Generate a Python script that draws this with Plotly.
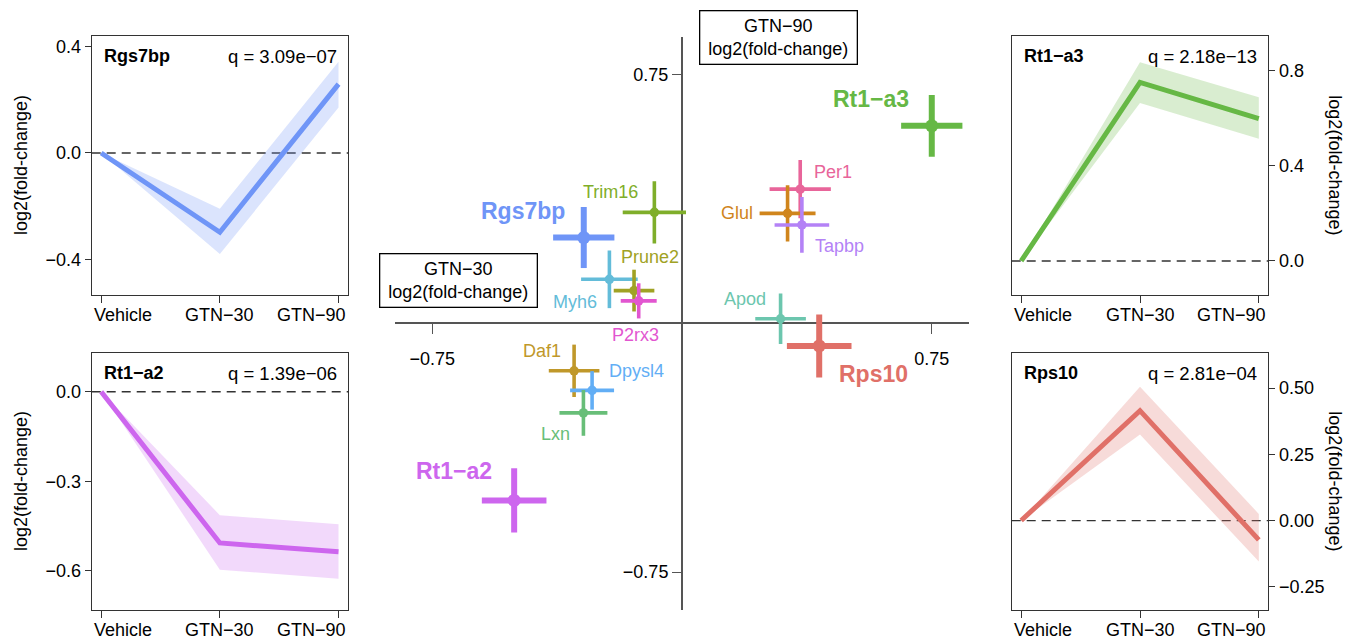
import plotly.graph_objects as go

W, H = 1359, 640
FONT = "Liberation Sans, Arial, Helvetica, sans-serif"
FS = 18

# ---------------- data ----------------
conditions = ["Vehicle", "GTN−30", "GTN−90"]

# central scatter: x = GTN-30 log2FC, y = GTN-90 log2FC, with errors
genes = ["Rt1−a3", "Rgs7bp", "Rps10", "Rt1−a2", "Trim16", "Per1", "Glul", "Tapbp",
         "Myh6", "Prune2", "P2rx3", "Apod", "Daf1", "Dpysl4", "Lxn"]
gtn30 = [0.750, -0.295, 0.412, -0.504, -0.083, 0.355, 0.317, 0.360,
         -0.218, -0.144, -0.130, 0.296, -0.324, -0.270, -0.296]
gtn90 = [0.596, 0.259, -0.068, -0.534, 0.335, 0.405, 0.332, 0.297,
         0.133, 0.099, 0.068, 0.014, -0.143, -0.202, -0.270]
err30 = [0.092, 0.092, 0.097, 0.097, 0.095, 0.092, 0.084, 0.082,
         0.085, 0.061, 0.054, 0.076, 0.076, 0.066, 0.072]
err90 = [0.093, 0.092, 0.095, 0.097, 0.094, 0.088, 0.085, 0.084,
         0.087, 0.063, 0.053, 0.076, 0.079, 0.058, 0.069]
highlighted = ["Rt1−a3", "Rgs7bp", "Rps10", "Rt1−a2"]

# per-condition profiles of the highlighted genes (small panels)
panel_genes = ["Rgs7bp", "Rt1−a2", "Rt1−a3", "Rps10"]
panel_q = ["q = 3.09e−07", "q = 1.39e−06", "q = 2.18e−13", "q = 2.81e−04"]
rgs7bp_mean = [0.0, -0.298, 0.259]
rgs7bp_lo = [0.0, -0.380, 0.171]
rgs7bp_hi = [0.0, -0.210, 0.343]
rt1a2_mean = [0.0, -0.507, -0.537]
rt1a2_lo = [0.0, -0.597, -0.627]
rt1a2_hi = [0.0, -0.414, -0.444]
rt1a3_mean = [0.0, 0.751, 0.598]
rt1a3_lo = [0.0, 0.664, 0.514]
rt1a3_hi = [0.0, 0.835, 0.688]
rps10_mean = [0.0, 0.415, -0.073]
rps10_lo = [0.0, 0.325, -0.155]
rps10_hi = [0.0, 0.505, 0.025]

# tick values / labels
p1_ticks, p1_labels = [-0.4, 0.0, 0.4], ["−0.4", "0.0", "0.4"]
p2_ticks, p2_labels = [-0.6, -0.3, 0.0], ["−0.6", "−0.3", "0.0"]
p3_ticks, p3_labels = [0.0, 0.4, 0.8], ["0.0", "0.4", "0.8"]
p4_ticks, p4_labels = [-0.25, 0.0, 0.25, 0.5], ["−0.25", "0.00", "0.25", "0.50"]
sc_ticks, sc_labels = [-0.75, 0.75], ["−0.75", "0.75"]

# ---------------- styles ----------------
gene_colors = {
    "Rt1−a3": "#66B845", "Rgs7bp": "#6F95F7", "Rps10": "#E07068", "Rt1−a2": "#CD66EE",
    "Trim16": "#7FAE2A", "Per1": "#E8659A", "Glul": "#D0851C", "Tapbp": "#B482F6",
    "Myh6": "#63BCD9", "Prune2": "#A0A224", "P2rx3": "#E256D0", "Apod": "#6CC6AE",
    "Daf1": "#C0982A", "Dpysl4": "#62AEF5", "Lxn": "#68BE78",
}
# label anchor positions (central plot, data units)
label_pos = {
    "Rt1−a3": (0.569, 0.676), "Rgs7bp": (-0.477, 0.340), "Rps10": (0.576, -0.154),
    "Rt1−a2": (-0.684, -0.445), "Trim16": (-0.214, 0.397), "Per1": (0.452, 0.457),
    "Glul": (0.166, 0.332), "Tapbp": (0.472, 0.234), "Myh6": (-0.322, 0.065),
    "Prune2": (-0.095, 0.201), "P2rx3": (-0.141, -0.036), "Apod": (0.189, 0.073),
    "Daf1": (-0.421, -0.083), "Dpysl4": (-0.138, -0.144), "Lxn": (-0.379, -0.335),
}


def rgba(hexc, a):
    h = hexc.lstrip("#")
    return "rgba(%d,%d,%d,%.2f)" % (int(h[0:2], 16), int(h[2:4], 16), int(h[4:6], 16), a)


def xdom(px0, px1):
    return [px0 / W, px1 / W]


def ydom(py_top, py_bot):
    return [1 - py_bot / H, 1 - py_top / H]


fig = go.Figure()

x_pos = list(range(1, len(conditions) + 1))
panels = [
    dict(gene="Rgs7bp", mean=rgs7bp_mean, lo=rgs7bp_lo, hi=rgs7bp_hi, q=panel_q[0],
         xd=xdom(91.7, 348.0), yd=ydom(35.7, 295.0), ticks=p1_ticks, labels=p1_labels,
         yr=[-0.534, 0.441], side="left"),
    dict(gene="Rt1−a2", mean=rt1a2_mean, lo=rt1a2_lo, hi=rt1a2_hi, q=panel_q[1],
         xd=xdom(91.7, 348.0), yd=ydom(352.7, 610.0), ticks=p2_ticks, labels=p2_labels,
         yr=[-0.732, 0.131], side="left"),
    dict(gene="Rt1−a3", mean=rt1a3_mean, lo=rt1a3_lo, hi=rt1a3_hi, q=panel_q[2],
         xd=xdom(1011.7, 1268.3), yd=ydom(35.7, 295.0), ticks=p3_ticks, labels=p3_labels,
         yr=[-0.143, 0.947], side="right"),
    dict(gene="Rps10", mean=rps10_mean, lo=rps10_lo, hi=rps10_hi, q=panel_q[3],
         xd=xdom(1011.7, 1268.3), yd=ydom(352.7, 610.0), ticks=p4_ticks, labels=p4_labels,
         yr=[-0.338, 0.634], side="right"),
]

annotations = []
shapes = []
layout_axes = {}

for i, p in enumerate(panels):
    n = i + 1
    xa = "x" if n == 1 else "x%d" % n
    ya = "y" if n == 1 else "y%d" % n
    col = gene_colors[p["gene"]]
    fig.add_trace(go.Scatter(
        x=x_pos + x_pos[::-1], y=p["hi"] + p["lo"][::-1], fill="toself",
        fillcolor=rgba(col, 0.25), line=dict(width=0), mode="lines",
        hoverinfo="skip", showlegend=False, xaxis=xa, yaxis=ya))
    fig.add_trace(go.Scatter(
        x=x_pos, y=p["mean"], mode="lines", line=dict(color=col, width=5),
        showlegend=False, xaxis=xa, yaxis=ya, name=p["gene"]))
    axis_common = dict(showgrid=False, zeroline=False, showline=True, mirror=True,
                       linecolor="#333333", linewidth=1.3, ticks="outside",
                       tickcolor="#333333", tickwidth=1.2)
    layout_axes["xaxis" if n == 1 else "xaxis%d" % n] = dict(
        domain=p["xd"], range=[0.92, 3.08], tickvals=x_pos, showticklabels=False,
        ticklen=7, anchor=ya, **axis_common)
    layout_axes["yaxis" if n == 1 else "yaxis%d" % n] = dict(
        domain=p["yd"], range=p["yr"], tickvals=p["ticks"], ticktext=p["labels"],
        ticklen=6, side=p["side"], anchor=xa,
        tickfont=dict(size=FS, color="#000000", family=FONT), **axis_common)
    # dashed zero reference
    shapes.append(dict(type="line", xref="%s domain" % xa, yref=ya, x0=0, x1=1, y0=0, y1=0,
                       line=dict(color="#333333", width=1.3, dash="9px,6px"), layer="below"))
    # gene name + q value
    annotations.append(dict(xref="%s domain" % xa, yref="%s domain" % ya, x=0, y=1,
                            xshift=10, yshift=-20.5, xanchor="left", yanchor="middle",
                            text="<b>%s</b>" % p["gene"], showarrow=False,
                            font=dict(size=FS, color="#000000", family=FONT)))
    annotations.append(dict(xref="%s domain" % xa, yref="%s domain" % ya, x=1, y=1,
                            xshift=-9, yshift=-20.5, xanchor="right", yanchor="middle",
                            text=p["q"], showarrow=False,
                            font=dict(size=18.5, color="#000000", family=FONT)))
    # category labels under the panel
    for k, cond in enumerate(conditions):
        if k == 0:
            xr, xv, anc = "%s domain" % xa, 0, "left"
        elif k == len(conditions) - 1:
            xr, xv, anc = "%s domain" % xa, 1, "right"
        else:
            xr, xv, anc = xa, x_pos[k], "center"
        annotations.append(dict(xref=xr, yref="%s domain" % ya, x=xv, y=0, yshift=-20,
                                xanchor=anc, yanchor="middle", text=cond, showarrow=False,
                                font=dict(size=FS, color="#000000", family=FONT)))
    # y-axis title
    ymid = (p["yd"][0] + p["yd"][1]) / 2
    if p["side"] == "left":
        annotations.append(dict(xref="paper", yref="paper", x=21.7 / W, y=ymid,
                                text="log2(fold-change)", textangle=-90, showarrow=False,
                                xanchor="center", yanchor="middle",
                                font=dict(size=FS, color="#000000", family=FONT)))
    else:
        annotations.append(dict(xref="paper", yref="paper", x=1335 / W, y=ymid,
                                text="log2(fold-change)", textangle=90, showarrow=False,
                                xanchor="center", yanchor="middle",
                                font=dict(size=FS, color="#000000", family=FONT)))

# ---------------- central scatter ----------------
sc_xd = xdom(394.6, 969.4)
sc_yd = ydom(37.3, 609.5)
sc_xr = [-0.863, 0.863]
sc_yr = [-0.863, 0.863]

for g, xv, yv, ex, ey in zip(genes, gtn30, gtn90, err30, err90):
    big = g in highlighted
    col = gene_colors[g]
    th = 6 if big else 3.6
    fig.add_trace(go.Scatter(
        x=[xv], y=[yv], mode="markers", name=g, showlegend=False,
        marker=dict(color=col, size=13 if big else 9.5, line=dict(width=0)),
        error_x=dict(type="data", array=[ex], color=col, thickness=th, width=0),
        error_y=dict(type="data", array=[ey], color=col, thickness=th, width=0),
        xaxis="x5", yaxis="y5"))
    lx, ly = label_pos[g]
    annotations.append(dict(xref="x5", yref="y5", x=lx, y=ly, showarrow=False,
                            text="<b>%s</b>" % g if big else g,
                            xanchor="center", yanchor="middle",
                            font=dict(size=23 if big else FS, color=col, family=FONT)))

# paper positions of the zero lines (where the axes cross)
zero_x_paper = sc_xd[0] + (0 - sc_xr[0]) / (sc_xr[1] - sc_xr[0]) * (sc_xd[1] - sc_xd[0])
zero_y_paper = sc_yd[0] + (0 - sc_yr[0]) / (sc_yr[1] - sc_yr[0]) * (sc_yd[1] - sc_yd[0])

layout_axes["xaxis5"] = dict(domain=sc_xd, range=sc_xr, anchor="free", position=zero_y_paper,
                             showgrid=False, showline=False, zeroline=True,
                             zerolinecolor="#555555", zerolinewidth=1.5,
                             tickvals=sc_ticks, ticktext=sc_labels, ticks="outside",
                             ticklen=10, tickcolor="#555555", tickwidth=1.3,
                             ticklabelstandoff=9,
                             tickfont=dict(size=FS, color="#000000", family=FONT))
layout_axes["yaxis5"] = dict(domain=sc_yd, range=sc_yr, anchor="free", position=zero_x_paper,
                             showgrid=False, showline=False, zeroline=True,
                             zerolinecolor="#555555", zerolinewidth=1.5,
                             tickvals=sc_ticks, ticktext=sc_labels, ticks="outside",
                             ticklen=10, tickcolor="#555555", tickwidth=1.3,
                             tickfont=dict(size=FS, color="#000000", family=FONT))

# axis label boxes
for txt, cx, cy in [("GTN−90<br>log2(fold-change)", 778, 37),
                    ("GTN−30<br>log2(fold-change)", 458.5, 280)]:
    annotations.append(dict(xref="paper", yref="paper", x=cx / W, y=1 - cy / H,
                            text=txt, showarrow=False,
                            xanchor="center", yanchor="middle", align="center",
                            width=152, height=48, borderpad=2, bordercolor="#000000",
                            borderwidth=1.3, bgcolor="#ffffff",
                            font=dict(size=FS, color="#000000", family=FONT)))

fig.update_layout(
    width=W, height=H, margin=dict(l=0, r=0, t=0, b=0),
    paper_bgcolor="#ffffff", plot_bgcolor="#ffffff",
    font=dict(family=FONT, size=FS, color="#000000"),
    showlegend=False, hovermode=False,
    annotations=annotations, shapes=shapes, **layout_axes)

fig.write_html("out.html", config={"displayModeBar": False},
               post_script="document.body.style.margin='0px';document.body.style.overflow='hidden';")
